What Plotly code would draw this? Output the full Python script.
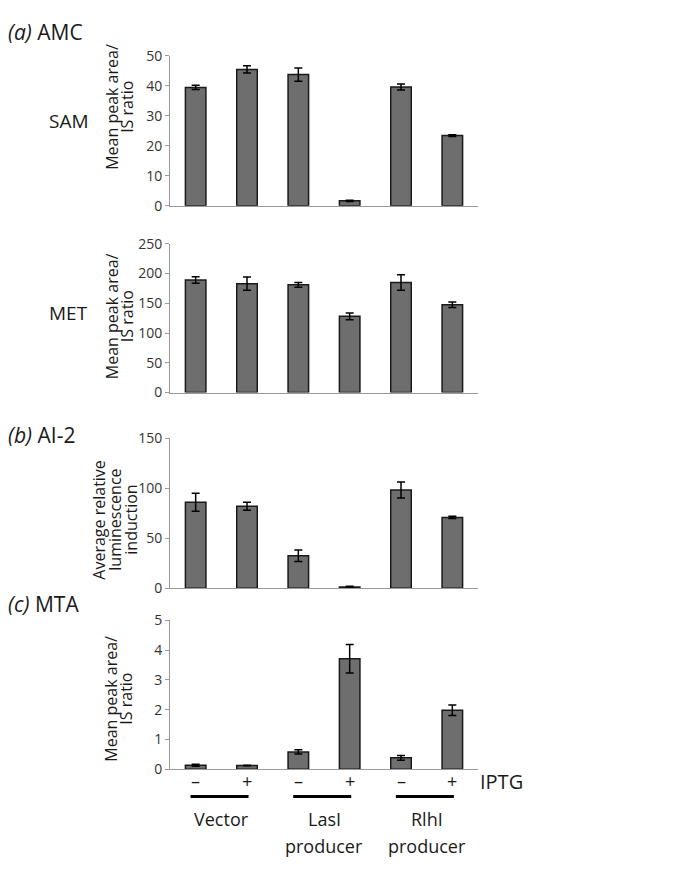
import plotly.graph_objects as go

# ---------------- data ----------------
categories = [0, 1, 2, 3, 4, 5]
iptg_labels = ["–", "+", "–", "+", "–", "+"]
group_line1 = ["Vector", "LasI", "RlhI"]
group_line2 = ["", "producer", "producer"]

sam_vals = [39.5, 45.5, 43.8, 1.6, 39.6, 23.4]
sam_err = [0.7, 1.2, 2.2, 0.2, 1.0, 0.3]

met_vals = [189, 183, 181, 128, 185, 147.5]
met_err = [5.5, 11, 4, 5.5, 13, 4.5]

ai2_vals = [86, 82, 32.5, 1.2, 98.3, 70.9]
ai2_err = [9, 4, 5.7, 0.6, 8, 1.2]

mta_vals = [0.13, 0.12, 0.58, 3.71, 0.38, 1.98]
mta_err = [0.03, 0.01, 0.07, 0.48, 0.08, 0.18]

sam_ticks = [0, 10, 20, 30, 40, 50]
met_ticks = [0, 50, 100, 150, 200, 250]
ai2_ticks = [0, 50, 100, 150]
mta_ticks = [0, 1, 2, 3, 4, 5]

# ---------------- style ----------------
W, H = 700, 874
FONT = "Open Sans"
BAR_FILL = "#6e6e6e"
BAR_LINE = "#1a1a1a"
AXIS_COL = "#9a9a9a"
TXT = "#1a1a1a"


def py(px):
    return 1 - px / H


def pxx(px):
    return px / W


xdom = [pxx(170), pxx(478)]
panels = [
    (sam_vals, sam_err, sam_ticks, (47, 200)),
    (met_vals, met_err, met_ticks, (239, 391)),
    (ai2_vals, ai2_err, ai2_ticks, (438, 591)),
    (mta_vals, mta_err, mta_ticks, (624, 776)),
]

fig = go.Figure()
layout = dict(
    width=W, height=H, autosize=False,
    margin=dict(l=0, r=0, t=0, b=0),
    paper_bgcolor="white", plot_bgcolor="white",
    showlegend=False,
    font=dict(family=FONT, color=TXT),
)

for i, (vals, errs, ticks, (top, bot)) in enumerate(panels, start=1):
    xa = "x" if i == 1 else f"x{i}"
    ya = "y" if i == 1 else f"y{i}"
    fig.add_trace(go.Bar(
        x=categories, y=vals, xaxis=xa, yaxis=ya, width=0.4,
        marker=dict(color=BAR_FILL, line=dict(color=BAR_LINE, width=1.5)),
        error_y=dict(type="data", array=errs, visible=True,
                     color="#000000", thickness=1.5, width=4),
        hoverinfo="skip",
    ))
    layout["xaxis" if i == 1 else f"xaxis{i}"] = dict(
        domain=xdom, anchor=ya, range=[-0.5, 5.5],
        showline=True, linecolor=AXIS_COL, linewidth=1,
        showticklabels=False, ticks="", showgrid=False, zeroline=False,
        fixedrange=True,
    )
    layout["yaxis" if i == 1 else f"yaxis{i}"] = dict(
        domain=[py(bot), py(top)], anchor=xa, range=[0, ticks[-1]],
        tickvals=ticks, ticks="outside", ticklen=4, tickcolor=AXIS_COL,
        showline=True, linecolor=AXIS_COL, linewidth=1,
        showgrid=False, zeroline=False,
        tickfont=dict(family=FONT, size=14, color="#333333"),
        fixedrange=True,
    )

ann = []


def text(x, y, s, size, anchor="center", angle=0, xref="paper"):
    ann.append(dict(x=x, y=y, xref=xref, yref="paper", text=s, showarrow=False,
                    xanchor=anchor, yanchor="middle", textangle=angle,
                    font=dict(family=FONT, size=size, color=TXT)))


# panel headers
text(pxx(6), py(22), "<i>(a)</i> AMC", 21, "left")
text(pxx(6), py(434), "<i>(b)</i> AI-2", 21, "left")
text(pxx(6), py(607), "<i>(c)</i> MTA", 21, "left")
text(pxx(47), py(113), "SAM", 19, "left")
text(pxx(47), py(310), "MET", 19, "left")

# rotated y-axis titles (one annotation per line)
YT = 16
text(pxx(112), py(99), "Mean peak area/", YT, angle=-90)
text(pxx(127), py(99), "IS ratio", YT, angle=-90)
text(pxx(112), py(313), "Mean peak area/", YT, angle=-90)
text(pxx(127), py(313), "IS ratio", YT, angle=-90)
text(pxx(99), py(521), "Average relative", YT, angle=-90)
text(pxx(115), py(521), "luminescence", YT, angle=-90)
text(pxx(131), py(521), "induction", YT, angle=-90)
text(pxx(111), py(704), "Mean peak area/", YT, angle=-90)
text(pxx(126), py(704), "IS ratio", YT, angle=-90)

# IPTG row and groups under the MTA panel
for c, lab in zip(categories, iptg_labels):
    text(c, py(788), lab, 18, xref="x4")
text(pxx(478), py(789), "IPTG", 20, "left")

shapes = []
for g in range(len(group_line1)):
    a = categories[2 * g]
    b = categories[2 * g + 1]
    shapes.append(dict(type="line", xref="x4", yref="paper",
                       x0=a - 0.1, x1=b + 0.03, y0=py(804), y1=py(804),
                       line=dict(color="#000000", width=3)))
    mid = (a + b) / 2
    text(mid, py(827), group_line1[g], 18, xref="x4")
    if group_line2[g]:
        text(mid, py(855), group_line2[g], 18, xref="x4")

layout["annotations"] = ann
layout["shapes"] = shapes
fig.update_layout(**layout)

fig.write_html("out.html", config={"displayModeBar": False},
               post_script="document.body.style.margin='0';")
